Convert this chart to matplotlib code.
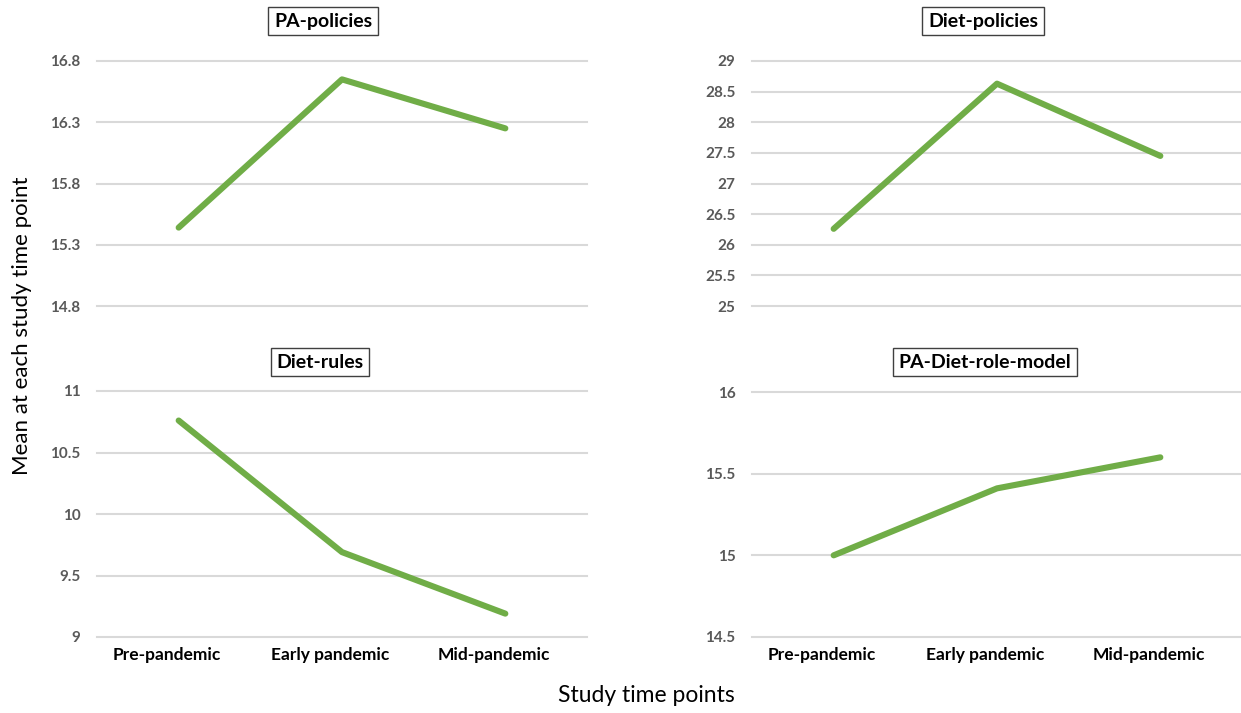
import matplotlib
matplotlib.use("Agg")
import matplotlib.pyplot as plt
from matplotlib.transforms import ScaledTranslation

plt.rcParams['font.family'] = ['Lato', 'DejaVu Sans']

categories = ["Pre-pandemic", "Early pandemic", "Mid-pandemic"]

pa_policies = [15.44, 16.65, 16.25]
diet_policies = [26.26, 28.63, 27.45]
diet_rules = [10.76, 9.69, 9.19]
role_model = [15.0, 15.41, 15.60]

panels = [
    ("PA-policies", pa_policies, [14.8, 15.3, 15.8, 16.3, 16.8], ["14.8", "15.3", "15.8", "16.3", "16.8"]),
    ("Diet-policies", diet_policies, [25, 25.5, 26, 26.5, 27, 27.5, 28, 28.5, 29],
     ["25", "25.5", "26", "26.5", "27", "27.5", "28", "28.5", "29"]),
    ("Diet-rules", diet_rules, [9, 9.5, 10, 10.5, 11], ["9", "9.5", "10", "10.5", "11"]),
    ("PA-Diet-role-model", role_model, [14.5, 15, 15.5, 16], ["14.5", "15", "15.5", "16"]),
]

W, H = 1241, 713
fig = plt.figure(figsize=(W / 100, H / 100), dpi=100)

# axes boxes in pixels: left, top, right, bottom
boxes = [(97, 61, 587, 306), (752, 61, 1242, 306),
         (97, 391, 587, 637), (752, 392, 1242, 637)]
title_pos = [(323, 21), (983, 21), (320, 362), (985, 362)]

green = "#70ad47"
for i, (name, vals, ticks, labels) in enumerate(panels):
    l, t, r, b = boxes[i]
    ax = fig.add_axes([l / W, 1 - b / H, (r - l) / W, (b - t) / H])
    x = range(len(categories))
    ax.plot(x, vals, color=green, lw=4.4, solid_capstyle='round', solid_joinstyle='round', zorder=3)
    ax.set_xlim(-0.5, 2.5)
    ax.set_ylim(ticks[0], ticks[-1])
    ax.set_yticks(ticks)
    ax.set_yticklabels(labels, fontsize=11, fontweight='bold', color='#595959')
    ax.grid(axis='y', color='#d9d9d9', lw=1.5, zorder=0)
    ax.tick_params(length=0, pad=12)
    for s in ax.spines.values():
        s.set_visible(False)
    if i >= 2:
        ax.set_xticks(list(x))
        ax.set_xticklabels(categories, fontsize=12.5, fontweight='bold', color='black')
        ax.tick_params(axis='x', pad=7)
        shift = ScaledTranslation(-12 / 100, 0, fig.dpi_scale_trans)
        for lab in ax.get_xticklabels():
            lab.set_transform(lab.get_transform() + shift)
    else:
        ax.set_xticks([])
    for gl in ax.get_ygridlines():
        gl.set_clip_on(False)
    tx, ty = title_pos[i]
    fig.text(tx / W, 1 - ty / H, name, ha='center', va='center', fontsize=14, fontweight='bold',
             bbox=dict(boxstyle='square,pad=0.3', fc='white', ec='#404040', lw=1))

fig.text(22 / W, 1 - 326 / H, "Mean at each study time point", rotation=90,
         ha='center', va='center', fontsize=16)
fig.text(646 / W, 1 - 696 / H, "Study time points", ha='center', va='center', fontsize=16.5)

fig.savefig("out.png", dpi=100, facecolor='white')
